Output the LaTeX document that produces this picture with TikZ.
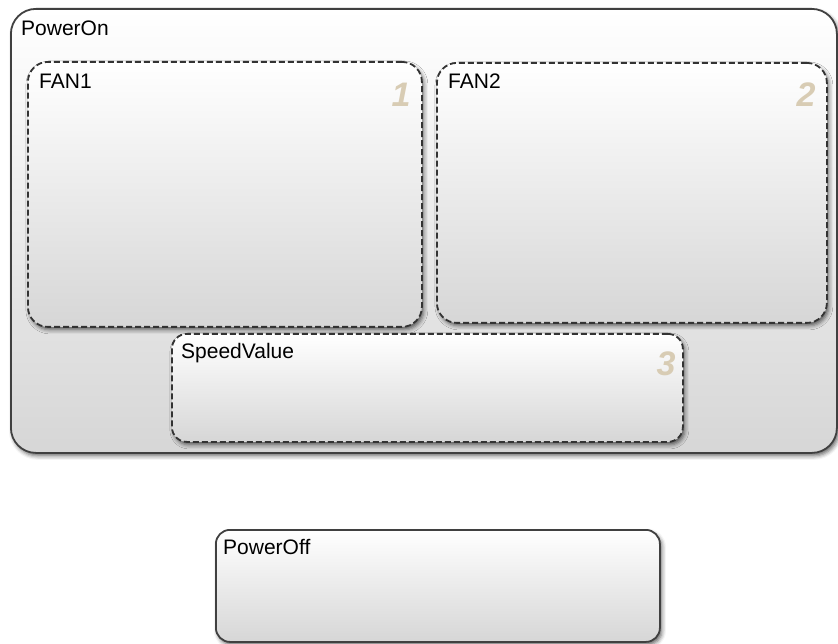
\documentclass[tikz,border=0pt]{standalone}
\usepackage{fontspec}
\setmainfont{Liberation Sans}
\usetikzlibrary{positioning, shadows.blur}
\definecolor{ordertan}{HTML}{D8CCB4}

\begin{document}
\begin{tikzpicture}[
            x=1pt, y=-1pt,
            state/.style={rectangle, draw=black!75, line width=1.8pt, anchor=north west, inner sep=0pt,
                top color=white, bottom color=black!16,
                blur shadow={shadow xshift=2pt, shadow yshift=-3pt, shadow blur radius=4pt, shadow opacity=60}},
            parstate/.style={state, draw=black!80, dash pattern=on 6pt off 3pt, rounded corners=20pt},
            statename/.style={anchor=base west, inner sep=0pt, font=\fontsize{21}{25}\selectfont},
            ordnum/.style={anchor=base east, inner sep=0pt, text=ordertan, font=\fontsize{34}{40}\selectfont\bfseries\itshape}
        ]
        \useasboundingbox (0,0) rectangle (838,644);

        % Outer state
        \node[state, rounded corners=25pt, minimum width=826pt, minimum height=444pt] (poweron) at (10,8) {};
        \node[statename] (poweronname) at ([shift={(11,28)}]poweron.north west) {PowerOn};

        % Parallel substates
        \node[parstate, minimum width=394pt, minimum height=265pt] (fanone) at (27,61) {};
        \node[statename] (fanonename) at ([shift={(12,28)}]fanone.north west) {FAN1};
        \node[ordnum] (fanoneorder) at ([shift={(-12,46)}]fanone.north east) {1};

        \node[parstate, minimum width=390pt, minimum height=260pt] (fantwo) at (436,62) {};
        \node[statename] (fantwoname) at ([shift={(12,27)}]fantwo.north west) {FAN2};
        \node[ordnum] (fantwoorder) at ([shift={(-12,45)}]fantwo.north east) {2};

        \node[parstate, rounded corners=15pt, minimum width=511pt, minimum height=108pt] (speed) at (171,333) {};
        \node[statename] (speedname) at ([shift={(10,26)}]speed.north west) {SpeedValue};
        \node[ordnum] (speedorder) at ([shift={(-8,42)}]speed.north east) {3};

        % Off state
        \node[state, rounded corners=14pt, minimum width=444pt, minimum height=112pt] (poweroff) at (215,529) {};
        \node[statename] (poweroffname) at ([shift={(8,25)}]poweroff.north west) {PowerOff};

    \end{tikzpicture}
\end{document}
